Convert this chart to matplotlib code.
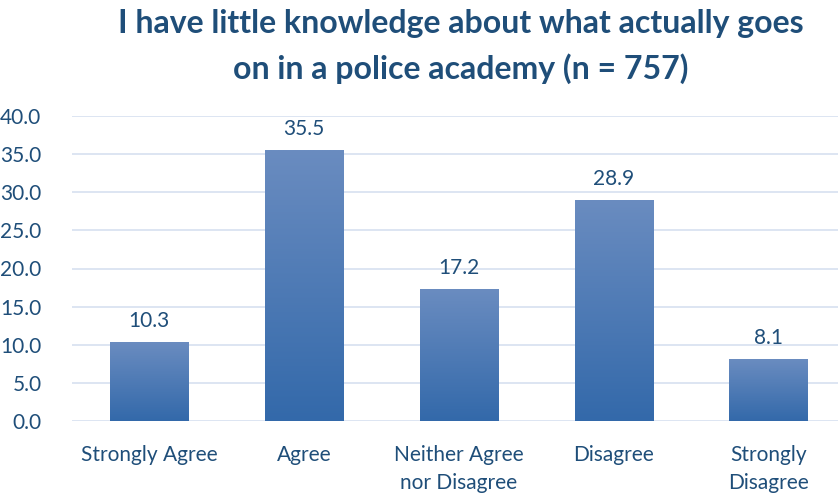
import matplotlib.pyplot as plt
import numpy as np
from matplotlib.colors import LinearSegmentedColormap

categories = ["Strongly Agree", "Agree", "Neither Agree\nnor Disagree", "Disagree", "Strongly\nDisagree"]
values = [10.3, 35.5, 17.2, 28.9, 8.1]
yticks = [0, 5, 10, 15, 20, 25, 30, 35, 40]

txt = "#1f4e79"
plt.rcParams['font.family'] = ['Lato', 'DejaVu Sans']

fig = plt.figure(figsize=(8.38, 4.96), dpi=100)
ax = fig.add_axes([72/838, 75/496, (838-72)/838, (421-116)/496])

bars = ax.bar(range(len(values)), values, width=0.505, color="none", zorder=3)

# vertical gradient for each bar
grad = LinearSegmentedColormap.from_list("g", ["#3369aa", "#6a8cc0"])
g = np.linspace(0, 1, 256).reshape(-1, 1)
for b in bars:
    x0, y0 = b.get_x(), b.get_y()
    w, h = b.get_width(), b.get_height()
    ax.imshow(g, cmap=grad, aspect="auto", origin="lower",
              extent=[x0, x0 + w, y0, y0 + h], zorder=3)

for i, v in enumerate(values):
    ax.text(i, v + 1.5, f"{v:.1f}", ha="center", va="bottom", fontsize=15, color=txt)

ax.set_xlim(-0.5, 4.45)
ax.set_ylim(0, 40)
ax.set_yticks(yticks)
ax.set_yticklabels([f"{t:.1f}" for t in yticks], fontsize=15, color=txt)
ax.set_xticks(range(len(categories)))
ax.set_xticklabels(categories, fontsize=15, color=txt, linespacing=1.55)
ax.tick_params(axis="y", length=0, pad=22)
ax.tick_params(axis="x", length=0, pad=17)
ax.grid(axis="y", color="#dae3f1", linewidth=1.3, zorder=0)
for s in ax.spines.values():
    s.set_visible(False)

fig.text(0.55, 0.982, "I have little knowledge about what actually goes\non in a police academy (n = 757)",
         ha="center", va="top", fontsize=23, fontweight="bold", color=txt, linespacing=1.6)

fig.savefig("out.png", dpi=100)
